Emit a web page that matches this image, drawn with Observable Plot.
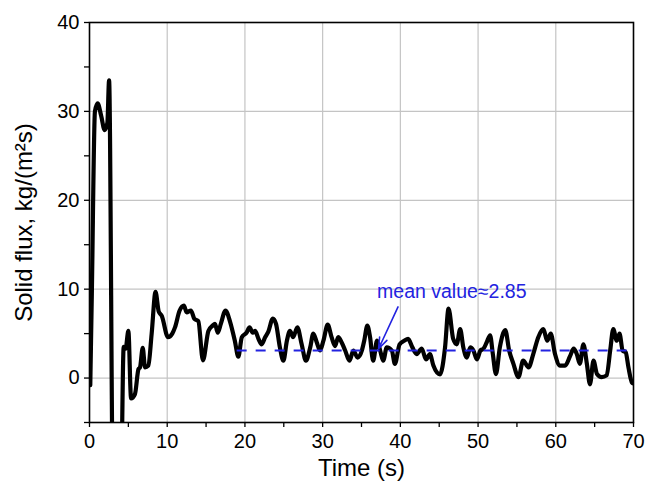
<!DOCTYPE html>
<html>
<head>
<meta charset="utf-8">
<script src="https://cdn.jsdelivr.net/npm/d3@7"></script>
<script src="https://cdn.jsdelivr.net/npm/@observablehq/plot@0.6"></script>
<style>
  html, body { margin: 0; padding: 0; background: #fff; }
  #chart { width: 647px; height: 487px; }
</style>
</head>
<body>
<div id="chart"></div>
<script>
// Time (s)
const time = [
  0.1, 0.3, 0.7, 1.05, 1.5, 1.95, 2.3, 2.52, 3.05, 4.0,
  4.4, 4.65, 5.0, 5.35, 5.85, 6.3, 6.5, 6.85, 7.15, 7.57,
  8.0, 8.5, 8.9, 9.3, 10.1, 10.65, 11.0, 11.6, 12.15, 12.5,
  13.05, 13.5, 14.0, 14.6, 15.3, 15.85, 16.15, 16.5, 16.9, 17.5,
  18.1, 18.7, 19.15, 19.6, 20.2, 20.6, 21.0, 21.3, 21.75, 22.15,
  22.6, 23.0, 23.6, 24.0, 24.5, 24.95, 25.4, 25.8, 26.2, 26.75,
  27.3, 27.85, 28.4, 28.8, 29.25, 29.65, 30.1, 30.65, 31.15, 31.6,
  32.0, 32.45, 32.9, 33.45, 33.95, 34.5, 35.05, 35.35, 35.75, 36.1,
  36.5, 37.0, 37.4, 37.8, 38.25, 38.9, 39.3, 39.9, 40.5, 41.0,
  41.55, 42.1, 42.75, 43.3, 43.8, 44.25, 45.1, 45.75, 46.2, 46.8,
  47.25, 47.7, 48.1, 48.55, 49.0, 49.4, 49.85, 50.3, 50.7, 51.1,
  51.55, 51.9, 52.3, 52.8, 53.5, 54.0, 54.55, 55.2, 55.8, 56.5,
  57.1, 57.75, 58.4, 58.9, 59.35, 59.9, 60.55, 61.2, 61.85, 62.3,
  62.7, 63.1, 63.55, 64.0, 64.4, 64.85, 65.3, 65.9, 66.55, 67.0,
  67.4, 67.85, 68.2, 68.6, 69.0, 69.35, 69.8, 70.0
];
// Solid flux, kg/(m^2 s)
const flux = [
  -0.8, 9.5, 30.0, 30.9, 29.5, 27.9, 28.7, 33.5, -15, -15,
  3.5, 3.3, 5.3, -2.3, -1.8, 1.0, 1.2, 3.4, 1.2, 1.4,
  5.0, 9.7, 7.5, 7.0, 4.6, 5.0, 5.7, 7.6, 8.15, 7.4,
  7.6, 6.65, 6.4, 2.0, 5.3, 5.9, 6.1, 5.1, 6.1, 7.6,
  6.3, 4.2, 2.4, 4.6, 5.1, 5.7, 5.1, 5.3, 4.4, 3.8,
  4.6, 5.2, 6.7, 6.1, 3.45, 1.95, 4.2, 5.3, 4.6, 5.7,
  3.8, 1.95, 3.45, 5.0, 4.0, 3.1, 4.2, 6.0, 4.6, 3.6,
  4.6, 4.0, 3.1, 1.95, 3.1, 2.3, 3.1, 4.2, 5.9, 4.6,
  1.95, 4.2, 3.1, 1.95, 3.45, 3.1, 1.6, 3.8, 4.2, 4.4,
  3.45, 2.7, 3.3, 2.1, 2.7, 1.4, 0.4, 3.45, 7.8, 4.4,
  3.8, 5.5, 3.45, 2.3, 3.45, 3.1, 2.1, 3.1, 3.3, 4.0,
  4.8, 2.7, 0.45, 3.45, 5.4, 3.1, 1.6, 0.1, 1.95, 1.2,
  2.7, 4.6, 5.5, 4.2, 5.0, 2.7, 1.4, 1.4, 2.5, 3.3,
  2.7, 1.6, 3.8, 1.6, -0.7, 1.95, 0.45, 0.1, 0.3, 3.1,
  5.5, 4.2, 5.0, 3.1, 2.9, 1.2, -0.5, -0.6
];
const xTicks = [0, 10, 20, 30, 40, 50, 60, 70];
const xMinor = [5, 15, 25, 35, 45, 55, 65];
const yTicks = [0, 10, 20, 30, 40];
const yMinor = [-5, 5, 15, 25, 35];
const xGrid = [10, 20, 30, 40, 50, 60];
const yGrid = [0, 10, 20, 30];
const meanSpan = [19, 70];
const meanLevel = 3.1;
const meanLabel = "mean value\u22482.85";
const labelPos = {x: 37.0, y: 9.7};
const arrowFrom = {x: 39.7, y: 8.0};
const arrowTo = {x: 37.2, y: 3.3};
const xLabel = "Time (s)";
const yLabel = "Solid flux, kg/(m\u00B2s)";

const series = time.map((t, i) => ({t, v: flux[i]}));
const blue = "#2323e0";
const font = "Liberation Sans, Arial, sans-serif";

const chart = Plot.plot({
  width: 647,
  height: 487,
  marginLeft: 89,
  marginRight: 14,
  marginTop: 22,
  marginBottom: 65,
  style: {fontFamily: font, background: "#fff", color: "#000"},
  x: {domain: [0, 70]},
  y: {domain: [-5, 40]},
  marks: [
    Plot.ruleX(xGrid, {stroke: "#c4c4c4", strokeWidth: 1.2}),
    Plot.ruleY(yGrid, {stroke: "#c4c4c4", strokeWidth: 1.2}),
    Plot.line(series, {x: "t", y: "v", stroke: "#000", strokeWidth: 4.2, strokeLinejoin: "round", curve: "monotone-x", clip: true}),
    Plot.ruleY([meanLevel], {x1: meanSpan[0], x2: meanSpan[1], stroke: blue, strokeWidth: 2, strokeDasharray: "10,9"}),
    Plot.arrow([0], {x1: () => arrowFrom.x, y1: () => arrowFrom.y, x2: () => arrowTo.x, y2: () => arrowTo.y, stroke: blue, strokeWidth: 1.6, headLength: 11, headAngle: 40}),
    Plot.text([meanLabel], {x: labelPos.x, y: labelPos.y, text: d => d, textAnchor: "start", fill: blue, fontSize: 19.5}),
    Plot.axisX({ticks: xTicks, tickSize: 5, tickPadding: 6, fontSize: 20, label: null, strokeWidth: 1.3}),
    Plot.axisX({ticks: xMinor, tickSize: 5, tickFormat: () => "", label: null, strokeWidth: 1.3}),
    Plot.axisY({ticks: yTicks, tickSize: 5, tickPadding: 5, fontSize: 20, label: null, strokeWidth: 1.3}),
    Plot.axisY({ticks: yMinor, tickSize: 5, tickFormat: () => "", label: null, strokeWidth: 1.3}),
    Plot.frame({stroke: "#000", strokeWidth: 1.6}),
    Plot.text([xLabel], {frameAnchor: "bottom", dy: 46, text: d => d, fontSize: 24, lineAnchor: "middle"}),
    Plot.text([yLabel], {frameAnchor: "left", dx: -65, rotate: -90, text: d => d, fontSize: 24, textAnchor: "middle", lineAnchor: "middle"})
  ]
});
document.getElementById("chart").appendChild(chart);
</script>
</body>
</html>
